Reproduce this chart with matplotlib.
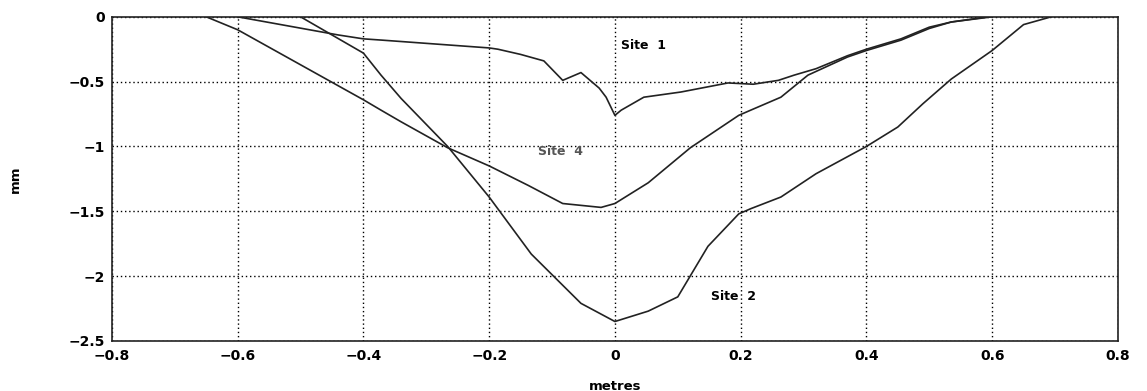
"""
Perfiles de deformación transversal - Sitios 1, 2 y 4
"""

import matplotlib
matplotlib.use('Agg')
import matplotlib.pyplot as plt

# Perfil sitio 1 (metros, mm)
site1_x = [-0.60, -0.44, -0.40, -0.37, -0.20, -0.186, -0.15, -0.113, -0.083, -0.054,
           -0.025, -0.014, 0.0, 0.01, 0.046, 0.105, 0.18, 0.22, 0.26, 0.285, 0.32,
           0.37, 0.40, 0.455, 0.50, 0.535, 0.594]
site1_y = [0.0, -0.14, -0.17, -0.18, -0.24, -0.25, -0.29, -0.34, -0.49, -0.43,
           -0.55, -0.62, -0.76, -0.72, -0.62, -0.58, -0.51, -0.52, -0.49, -0.45, -0.40,
           -0.30, -0.25, -0.17, -0.08, -0.04, 0.0]

# Perfil sitio 2
site2_x = [-0.50, -0.40, -0.372, -0.34, -0.266, -0.20, -0.133, -0.054, 0.0, 0.053,
           0.10, 0.148, 0.197, 0.216, 0.264, 0.32, 0.40, 0.45, 0.49, 0.535, 0.60,
           0.65, 0.694]
site2_y = [0.0, -0.28, -0.45, -0.63, -1.00, -1.39, -1.83, -2.21, -2.35, -2.27,
           -2.16, -1.77, -1.52, -1.48, -1.39, -1.21, -1.00, -0.85, -0.67, -0.48, -0.26,
           -0.06, 0.0]

# Perfil sitio 4
site4_x = [-0.65, -0.60, -0.40, -0.372, -0.34, -0.266, -0.20, -0.138, -0.083, -0.022,
           0.0, 0.053, 0.12, 0.197, 0.216, 0.264, 0.307, 0.37, 0.40, 0.455, 0.50,
           0.535, 0.60]
site4_y = [0.0, -0.10, -0.64, -0.72, -0.81, -1.01, -1.15, -1.30, -1.44, -1.47,
           -1.44, -1.28, -1.01, -0.76, -0.72, -0.62, -0.45, -0.31, -0.26, -0.18, -0.09,
           -0.04, 0.0]

x_ticks = [-0.8, -0.6, -0.4, -0.2, 0, 0.2, 0.4, 0.6, 0.8]
x_labels = ['−0.8', '−0.6', '−0.4', '−0.2', '0', '0.2', '0.4', '0.6', '0.8']
y_ticks = [0, -0.5, -1, -1.5, -2, -2.5]
y_labels = ['0', '−0.5', '−1', '−1.5', '−2', '−2.5']

fig = plt.figure(figsize=(11.47, 3.91), dpi=100)
ax = fig.add_axes([0.0976, 0.128, 0.877, 0.829])

color = '#222222'
for xs, ys in [(site1_x, site1_y), (site2_x, site2_y), (site4_x, site4_y)]:
    ax.plot(xs, ys, color=color, linewidth=1.2)

ax.set_xlim(-0.8, 0.8)
ax.set_ylim(-2.5, 0)
ax.set_xticks(x_ticks)
ax.set_xticklabels(x_labels)
ax.set_yticks(y_ticks)
ax.set_yticklabels(y_labels)
ax.tick_params(axis='x', length=0, labelsize=10, pad=6)
ax.tick_params(axis='y', length=0, labelsize=10, pad=5)
for lbl in ax.get_xticklabels() + ax.get_yticklabels():
    lbl.set_fontweight('bold')
ax.grid(True, color='black', linestyle=(0, (1, 2)), linewidth=1.0)
for s in ax.spines.values():
    s.set_linewidth(1.2)
    s.set_color('#222222')

# Etiquetas de cada sitio
ax.text(0.01, -0.22, 'Site  1', fontsize=9, fontweight='bold', va='center')
ax.text(-0.123, -1.04, 'Site  4', fontsize=9, fontweight='bold', va='center', color='#555555')
ax.text(0.153, -2.16, 'Site  2', fontsize=9, fontweight='bold', va='center')

ax.set_xlabel('metres', fontsize=9.5, fontweight='bold', labelpad=12)
ax.set_ylabel('mm', fontsize=9.5, fontweight='bold', labelpad=34)

fig.savefig('out.png', dpi=100)
plt.close(fig)
